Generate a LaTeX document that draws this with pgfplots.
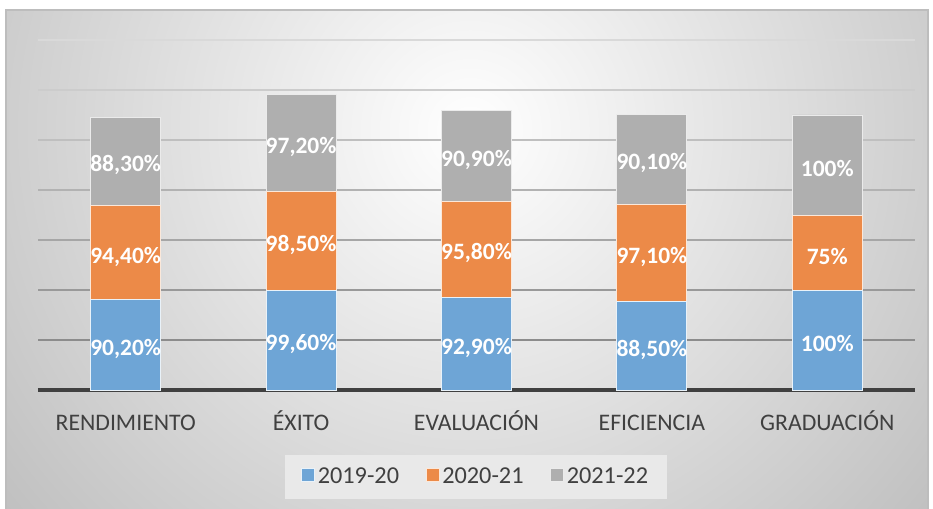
\documentclass[border=0pt]{standalone}
\usepackage{fontspec}
\setmainfont{Carlito}
\usepackage{pgfplots}
\pgfplotsset{compat=1.18}
\definecolor{cblue}{RGB}{110,165,214}
\definecolor{corange}{RGB}{236,138,72}
\definecolor{cgray}{RGB}{175,175,175}
\definecolor{ctext}{RGB}{64,64,64}
\definecolor{bgout}{RGB}{192,192,192}
\definecolor{legbg}{RGB}{233,233,233}
\pgfplotsset{base/.style={
  at={(28.5pt,88.5pt)}, anchor=south west,
  scale only axis, width=657.75pt, height=262.5pt,
  xmin=-0.5, xmax=4.5, ymin=0, ymax=350, enlargelimits=false, clip=false}}
\begin{document}
\begin{tikzpicture}
\useasboundingbox (0,0) rectangle (699.75pt,381pt);
\begin{scope}
\clip (4.5pt,0pt) rectangle (696pt,373.5pt);
\shade[inner color=white, outer color=bgout] (-97.5pt,-166.5pt) rectangle (802.5pt,733.5pt);
\end{scope}
\draw[black!26, line width=0.8pt] (4.5pt,-1pt) -- (4.5pt,373.5pt) -- (696pt,373.5pt) -- (696pt,-1pt);
% gridlines
\begin{axis}[base, axis lines=none]
\addplot[black!45, line width=0.9pt] coordinates {(-0.5,50) (4.5,50)};
\addplot[black!40, line width=0.9pt] coordinates {(-0.5,100) (4.5,100)};
\addplot[black!35, line width=0.9pt] coordinates {(-0.5,150) (4.5,150)};
\addplot[black!30, line width=0.9pt] coordinates {(-0.5,200) (4.5,200)};
\addplot[black!25, line width=0.9pt] coordinates {(-0.5,250) (4.5,250)};
\addplot[black!20, line width=0.9pt] coordinates {(-0.5,300) (4.5,300)};
\addplot[black!15, line width=0.9pt] coordinates {(-0.5,350) (4.5,350)};
\end{axis}
% bars
\begin{axis}[base,
  ybar stacked, bar width=52.5pt,
  axis line style={draw=none},
  xtick={0,1,2,3,4},
  xticklabels={RENDIMIENTO,ÉXITO,EVALUACIÓN,EFICIENCIA,GRADUACIÓN},
  xticklabel style={font=\fontsize{17.8}{20}\selectfont, text=ctext, anchor=base, yshift=-30pt},
  major tick length=0pt,
  ytick=\empty,
  legend columns=3,
  legend style={at={(0.4994,-0.2486)}, anchor=center, fill=legbg, draw=none,
    font=\fontsize{18.2}{20}\selectfont, text=ctext, inner xsep=12pt, inner ysep=8pt,
    /tikz/every even column/.append style={column sep=18pt}},
  legend image code/.code={\fill[#1] (0pt,-3pt) rectangle (9.75pt,6.75pt);},
]
\addplot[fill=cblue, draw=white!85!cblue, line width=0.7pt] coordinates {(0,90.2) (1,99.6) (2,92.9) (3,88.5) (4,100)};
\addplot[fill=corange, draw=white!80!corange, line width=0.7pt] coordinates {(0,94.4) (1,98.5) (2,95.8) (3,97.1) (4,75)};
\addplot[fill=cgray, draw=white!75!cgray, line width=0.7pt] coordinates {(0,88.3) (1,97.2) (2,90.9) (3,90.1) (4,100)};
\legend{2019-20,2020-21,2021-22}
\draw[color=ctext, line width=3pt] (axis cs:-0.5,0) -- (axis cs:4.5,0);
\end{axis}
% value labels
\begin{axis}[base, axis lines=none]
\addplot[only marks, mark=*, mark options={draw opacity=0, fill opacity=0},
  nodes near coords, point meta=explicit symbolic,
  every node near coord/.append style={anchor=center, yshift=-3pt, text=white, text opacity=1, fill opacity=1, font=\bfseries\fontsize{17.6}{20}\selectfont}]
  coordinates {
  (0,45.1) [90,20\%] (1,49.8) [99,60\%] (2,46.45) [92,90\%] (3,44.25) [88,50\%] (4,50) [100\%]
  (0,137.4) [94,40\%] (1,148.85) [98,50\%] (2,140.8) [95,80\%] (3,137.05) [97,10\%] (4,137.5) [75\%]
  (0,228.75) [88,30\%] (1,246.7) [97,20\%] (2,234.15) [90,90\%] (3,230.65) [90,10\%] (4,225) [100\%]
  };
\end{axis}
\end{tikzpicture}
\end{document}
